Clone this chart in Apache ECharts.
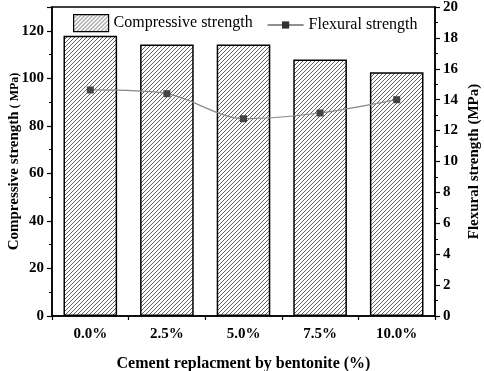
<!DOCTYPE html>
<html>
<head>
<meta charset="utf-8">
<script src="https://cdn.jsdelivr.net/npm/echarts@6/dist/echarts.min.js"></script>
<style>
  html, body { margin: 0; padding: 0; background: #fff; }
  #chart { width: 484px; height: 371px; }
</style>
</head>
<body>
<div id="chart"></div>
<script>
// data
const categories = ['0.0%', '2.5%', '5.0%', '7.5%', '10.0%'];
const compressive = [117.9, 114.2, 114.2, 107.9, 102.6];
const flexural = [14.63, 14.39, 12.77, 13.14, 14.0];

const FONT = '"Liberation Serif", "Times New Roman", serif';

// diagonal hatch ///
const makeHatch = () => {
    const c = document.createElement('canvas');
    c.width = 4;
    c.height = 4;
    const ctx = c.getContext('2d');
    ctx.fillStyle = '#fff';
    ctx.fillRect(0, 0, 4, 4);
    ctx.strokeStyle = '#3a3a3a';
    ctx.lineWidth = 0.8;
    ctx.beginPath();
    ctx.moveTo(-1, 5); ctx.lineTo(5, -1);
    ctx.moveTo(-1, 1); ctx.lineTo(1, -1);
    ctx.moveTo(3, 5); ctx.lineTo(5, 3);
    ctx.stroke();
    return c;
};
const hatch = { image: makeHatch(), repeat: 'repeat' };

const axisLineStyle = { color: '#000', width: 1.5 };
const labelStyle = { color: '#000', fontFamily: FONT, fontWeight: 'bold', fontSize: 15 };
const legendText = { color: '#000', fontFamily: FONT, fontSize: 16 };

const chart = echarts.init(document.getElementById('chart'));
chart.setOption({
    animation: false,
    grid: {
        left: 52, right: 49, top: 7, bottom: 55,
        outerBoundsMode: 'none',
        containLabel: false,
        show: true, borderColor: '#000', borderWidth: 1.5
    },
    // two legends so each icon gets its own size
    legend: [
        {
            left: 73, top: 14, padding: 0,
            itemWidth: 35, itemHeight: 17,
            itemGap: 8,
            textStyle: legendText,
            data: [{
                name: 'Compressive strength', icon: 'rect',
                itemStyle: { color: hatch, borderColor: '#000', borderWidth: 1.2 }
            }]
        },
        {
            left: 267, top: 17, padding: 0,
            itemWidth: 36, itemHeight: 9,
            textStyle: legendText,
            lineStyle: { color: '#222', width: 1.2 },
            itemStyle: { color: '#333' },
            data: [{ name: 'Flexural strength' }]
        }
    ],
    xAxis: {
        type: 'category',
        data: categories,
        name: 'Cement replacment by bentonite (%)',
        nameLocation: 'middle',
        nameGap: 40,
        nameTextStyle: { color: '#000', fontFamily: FONT, fontWeight: 'bold', fontSize: 16 },
        axisLine: { lineStyle: axisLineStyle },
        axisTick: { show: true, length: 4, lineStyle: { color: '#000', width: 1.2 } },
        axisLabel: Object.assign({ margin: 11 }, labelStyle)
    },
    yAxis: [
        {
            type: 'value',
            min: 0, max: 130, interval: 20,
            name: '{a|Compressive strength}{b| ( MPa)}',
            nameLocation: 'middle',
            nameGap: 30,
            nameMoveOverlap: false,
            nameTextStyle: {
                rich: {
                    a: { color: '#000', fontFamily: FONT, fontWeight: 'bold', fontSize: 15 },
                    b: { color: '#000', fontFamily: FONT, fontWeight: 'bold', fontSize: 12 }
                }
            },
            axisLine: { show: true, lineStyle: axisLineStyle },
            axisTick: { show: true, length: 5, lineStyle: { color: '#000', width: 1.2 } },
            minorTick: { show: true, splitNumber: 2, length: 3, lineStyle: { color: '#000', width: 1 } },
            splitLine: { show: false },
            axisLabel: Object.assign({ margin: 8, showMaxLabel: false }, labelStyle)
        },
        {
            type: 'value',
            min: 0, max: 20, interval: 2,
            name: 'Flexural strength (MPa)',
            nameLocation: 'middle',
            nameGap: 32,
            nameMoveOverlap: false,
            nameRotate: 90,
            nameTextStyle: { color: '#000', fontFamily: FONT, fontWeight: 'bold', fontSize: 15 },
            axisLine: { show: true, lineStyle: axisLineStyle },
            axisTick: { show: true, length: 5, lineStyle: { color: '#000', width: 1.2 } },
            minorTick: { show: true, splitNumber: 2, length: 3, lineStyle: { color: '#000', width: 1 } },
            splitLine: { show: false },
            axisLabel: Object.assign({ margin: 8 }, labelStyle)
        }
    ],
    series: [
        {
            name: 'Compressive strength',
            type: 'bar',
            data: compressive,
            barWidth: '70%',
            itemStyle: { color: hatch, borderColor: '#000', borderWidth: 1.5 }
        },
        {
            name: 'Flexural strength',
            type: 'line',
            yAxisIndex: 1,
            data: flexural,
            smooth: 0.3,
            symbol: 'rect',
            symbolSize: 7,
            lineStyle: { color: '#888', width: 1.2 },
            itemStyle: { color: '#444', borderWidth: 0 }
        }
    ]
});
</script>
</body>
</html>
